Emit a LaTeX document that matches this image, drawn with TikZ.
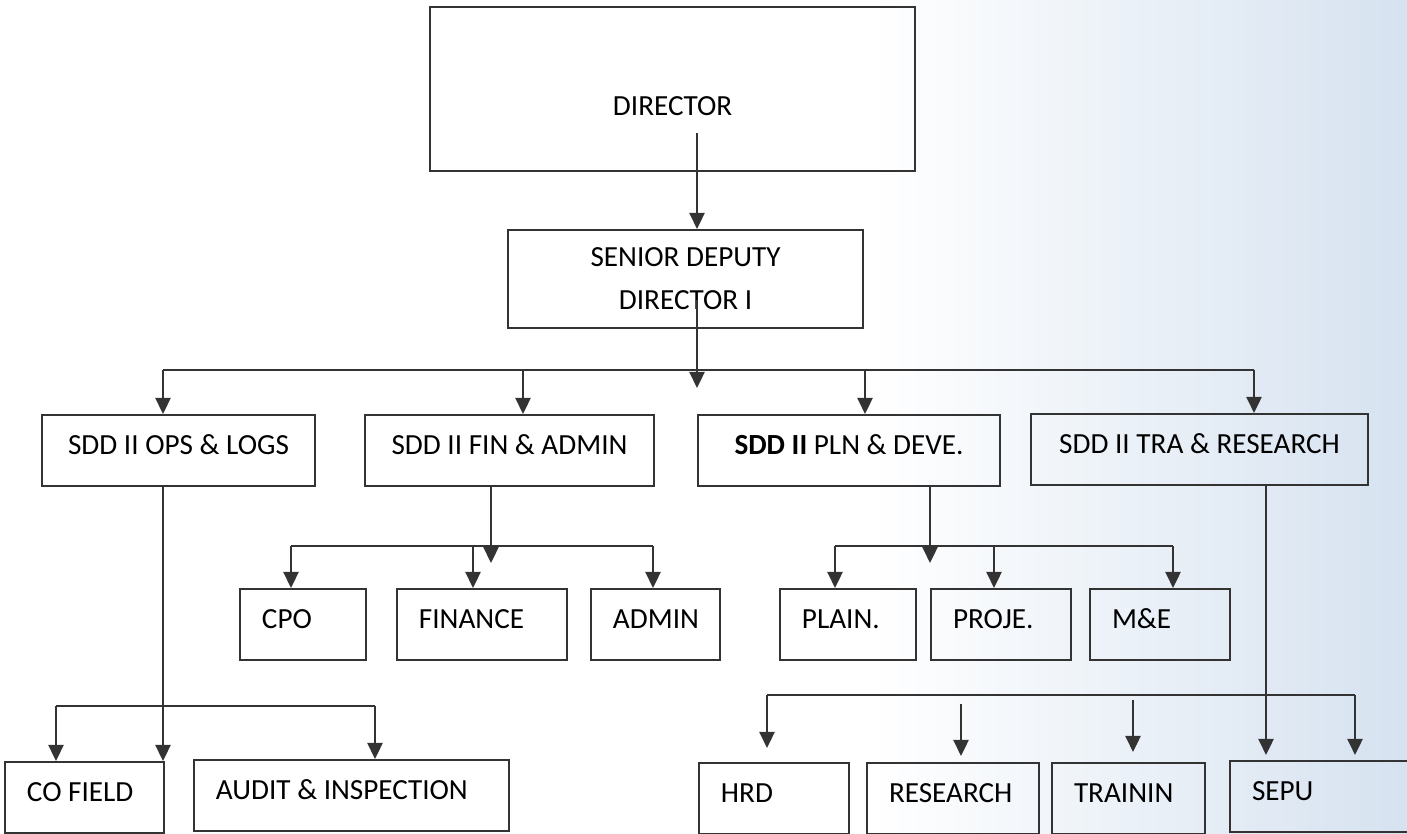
\documentclass[tikz,border=0pt]{standalone}
\usepackage{fontspec}
\setmainfont{Carlito}
\usetikzlibrary{arrows.meta,positioning,calc}
\definecolor{lineDark} {gray}{0.2}
\definecolor{paperBlue}{RGB}{214,226,240}

\begin{document}
\begin{tikzpicture}[x=0.01cm, y=-0.01cm,
      box/.style={draw=lineDark, line width=0.55pt, inner sep=0pt,
                  font=\fontsize{8.3}{10}\selectfont},
      head/.style={box, anchor=north west, minimum height=0.71cm,
                   text depth=0.11cm},
      unit/.style={box, anchor=north west, align=flush left, inner xsep=0.22cm,
                   minimum height=0.71cm, text depth=0.11cm},
      link/.style={draw=lineDark, line width=0.65pt},
      flow/.style={link, -{Triangle[length=0.16cm, width=0.15cm]}}]

    % paper
    \fill[white] (0,0) rectangle (1407,834);
    \shade[left color=white, right color=paperBlue] (870,0) rectangle (1407,834);
    \useasboundingbox (0,0) rectangle (1407,834);

    \node[box, anchor=north west, minimum width=4.85cm, minimum height=1.64cm,
          text height=0.52cm, text depth=0pt] (dir) at (429,6) {DIRECTOR};
    \node[box, anchor=north west, minimum width=3.55cm, minimum height=0.98cm,
          align=center, font=\fontsize{8.3}{12.2}\selectfont] (sdd) at (507,229)
      {SENIOR DEPUTY\\DIRECTOR I};

    \node[head, minimum width=2.73cm] (ops) at (41,414)   {SDD II OPS \& LOGS};
    \node[head, minimum width=2.89cm] (fin) at (364,414)  {SDD II FIN \& ADMIN};
    \node[head, minimum width=3.02cm] (pln) at (697,414)  {\textbf{SDD II} PLN \& DEVE.};
    \node[head, minimum width=3.37cm] (tra) at (1030,413) {SDD II TRA \& RESEARCH};

    \node[unit, text width=0.82cm] (cpo)     at (239,588)  {CPO};
    \node[unit, text width=1.26cm] (finance) at (396,588)  {FINANCE};
    \node[unit, text width=0.85cm] (admin)   at (590,588)  {ADMIN};
    \node[unit, text width=0.92cm] (plain)   at (779,588)  {PLAIN.};
    \node[unit, text width=0.96cm] (proje)   at (930,588)  {PROJE.};
    \node[unit, text width=0.96cm] (me)      at (1089,588) {M\&E};

    \node[unit, text width=1.15cm] (cofield)  at (4,761)    {CO FIELD};
    \node[unit, text width=2.71cm] (audit)    at (193,759)  {AUDIT \& INSPECTION};
    \node[unit, text width=1.06cm] (hrd)      at (698,762)  {HRD};
    \node[unit, text width=1.28cm] (research) at (866,762)  {RESEARCH};
    \node[unit, text width=1.09cm] (trainin)  at (1051,762) {TRAININ};
    \node[unit, text width=1.56cm] (sepu)     at (1229,760) {SEPU};

    % top
    \coordinate (dirout)  at (697,133);
    \coordinate (sddout)  at (697,300);
    \coordinate (busdrop) at (697,388);
    \draw[flow] (dirout) -- (dirout |- sdd.north);
    \draw[flow] (sddout) -- (busdrop);

    \coordinate (b1) at (163,370);
    \coordinate (b2) at (523,370);
    \coordinate (b3) at (865,370);
    \coordinate (b4) at (1254,370);
    \draw[link] (b1) -- (b4);
    \foreach \b/\n in {b1/ops, b2/fin, b3/pln, b4/tra}
      \draw[flow] (\b) -- (\b |- \n.north);

    % ops & logs
    \coordinate (o1) at (56,706);
    \coordinate (o2) at (375,706);
    \draw[flow] (b1 |- ops.south) -- (b1 |- cofield.north);
    \draw[link] (o1) -- (o2);
    \draw[flow] (o1) -- (o1 |- cofield.north);
    \draw[flow] (o2) -- (o2 |- audit.north);

    % fin & admin
    \coordinate (fdrop) at (491,563);
    \coordinate (f1) at (291,546);
    \coordinate (f2) at (473,546);
    \coordinate (f3) at (653,546);
    \draw[flow] (fdrop |- fin.south) -- (fdrop);
    \draw[link] (f1) -- (f3);
    \foreach \f/\n in {f1/cpo, f2/finance, f3/admin}
      \draw[flow] (\f) -- (\f |- \n.north);

    % pln & deve
    \coordinate (pdrop) at (930,563);
    \coordinate (p1) at (835,546);
    \coordinate (p2) at (994,546);
    \coordinate (p3) at (1173,546);
    \draw[flow] (pdrop |- pln.south) -- (pdrop);
    \draw[link] (p1) -- (p3);
    \foreach \p/\n in {p1/plain, p2/proje, p3/me}
      \draw[flow] (\p) -- (\p |- \n.north);

    % tra & research
    \coordinate (tdrop) at (1266,485);
    \coordinate (r1) at (767,695);
    \coordinate (r2) at (1355,695);
    \coordinate (r3) at (961,704);
    \coordinate (r4) at (1133,700);
    \draw[flow, shorten >=0.05cm] (tdrop |- tra.south) -- (tdrop |- sepu.north);
    \draw[link] (r1) -- (r2);
    \draw[flow, shorten >=0.14cm] (r1) -- (r1 |- hrd.north);
    \draw[flow, shorten >=0.05cm] (r2) -- (r2 |- sepu.north);
    \draw[flow, shorten >=0.06cm] (r3) -- (r3 |- research.north);
    \draw[flow, shorten >=0.10cm] (r4) -- (r4 |- trainin.north);
  \end{tikzpicture}
\end{document}
